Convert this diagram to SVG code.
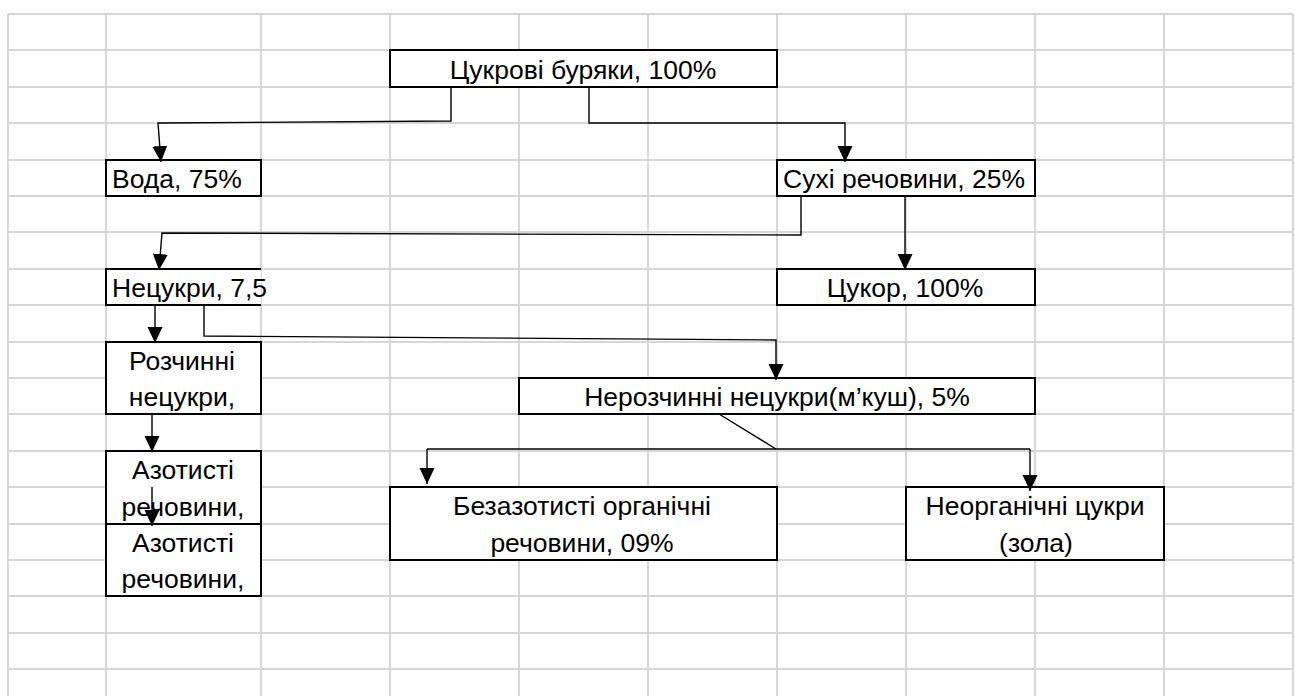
<svg xmlns="http://www.w3.org/2000/svg" width="1295" height="696" viewBox="0 0 1295 696">
<style>
.grid line{stroke:#d6d6d6;stroke-width:2}
.box{fill:#fff;stroke:#000;stroke-width:2}
.t{font-family:"Liberation Sans",Arial,sans-serif;font-size:26.5px;fill:#000}
.c{text-anchor:middle}
.conn path{fill:none;stroke:#000;stroke-width:1.4}
</style>
<defs>
<marker id="ah" markerUnits="userSpaceOnUse" markerWidth="16" markerHeight="16" viewBox="0 0 16 16" refX="16" refY="7.5" orient="auto">
<path d="M0,0 L16,7.5 L0,15 z" fill="#000"/>
</marker>
</defs>
<rect width="1295" height="696" fill="#fff"/>
<g class="grid">
<line x1="8" y1="14" x2="8" y2="696"/><line x1="106" y1="14" x2="106" y2="696"/><line x1="261" y1="14" x2="261" y2="696"/><line x1="390" y1="14" x2="390" y2="696"/><line x1="519" y1="14" x2="519" y2="696"/><line x1="648" y1="14" x2="648" y2="696"/><line x1="777" y1="14" x2="777" y2="696"/><line x1="906" y1="14" x2="906" y2="696"/><line x1="1035" y1="14" x2="1035" y2="696"/><line x1="1164" y1="14" x2="1164" y2="696"/><line x1="1293" y1="14" x2="1293" y2="696"/>
<line x1="8" y1="14" x2="1293" y2="14"/><line x1="8" y1="50" x2="1293" y2="50"/><line x1="8" y1="87" x2="1293" y2="87"/><line x1="8" y1="123" x2="1293" y2="123"/><line x1="8" y1="160" x2="1293" y2="160"/><line x1="8" y1="196" x2="1293" y2="196"/><line x1="8" y1="232" x2="1293" y2="232"/><line x1="8" y1="269" x2="1293" y2="269"/><line x1="8" y1="305" x2="1293" y2="305"/><line x1="8" y1="342" x2="1293" y2="342"/><line x1="8" y1="378" x2="1293" y2="378"/><line x1="8" y1="414" x2="1293" y2="414"/><line x1="8" y1="451" x2="1293" y2="451"/><line x1="8" y1="487" x2="1293" y2="487"/><line x1="8" y1="524" x2="1293" y2="524"/><line x1="8" y1="560" x2="1293" y2="560"/><line x1="8" y1="596" x2="1293" y2="596"/><line x1="8" y1="633" x2="1293" y2="633"/><line x1="8" y1="669" x2="1293" y2="669"/>
</g>
<g id="n-beet"><rect class="box" x="390" y="50" width="387" height="37"/><text class="t c" x="583" y="79">Цукрові буряки, 100%</text></g>
<g id="n-water"><rect class="box" x="106" y="160" width="155" height="36"/><text class="t" x="112" y="188">Вода, 75%</text></g>
<g id="n-dry"><rect class="box" x="777" y="160" width="258" height="36"/><text class="t" x="783" y="188">Сухі речовини, 25%</text></g>
<g id="n-nonsugar"><rect x="106" y="269" width="155" height="36" fill="#fff"/><path d="M261,269 H106 V305 H261" fill="none" stroke="#000" stroke-width="2"/><text class="t" x="112" y="297">Нецукри, 7,5</text></g>
<g id="n-sugar"><rect class="box" x="777" y="269" width="258" height="36"/><text class="t c" x="905" y="297">Цукор, 100%</text></g>
<g id="n-soluble"><rect class="box" x="106" y="342" width="155" height="72"/><text class="t c" x="182" y="370">Розчинні</text><text class="t c" x="182" y="406">нецукри,</text></g>
<g id="n-insoluble"><rect class="box" x="519" y="378" width="516" height="36"/><text class="t c" x="777" y="406">Нерозчинні нецукри(м’куш), 5%</text></g>
<g id="n-nitro1"><rect class="box" x="106" y="451" width="155" height="73"/><text class="t c" x="183" y="479">Азотисті</text><text class="t c" x="183" y="516">речовини,</text></g>
<g id="n-nitro2"><rect class="box" x="106" y="524" width="155" height="72"/><text class="t c" x="183" y="552">Азотисті</text><text class="t c" x="183" y="588">речовини,</text></g>
<g id="n-nonnitro"><rect class="box" x="390" y="487" width="387" height="73"/><text class="t c" x="582" y="515">Безазотисті органічні</text><text class="t c" x="582" y="552">речовини, 09%</text></g>
<g id="n-inorganic"><rect class="box" x="906" y="487" width="258" height="73"/><text class="t c" x="1035" y="515">Неорганічні цукри</text><text class="t c" x="1036" y="552">(зола)</text></g>
<g class="conn">
<path d="M451,87 V121 L158,123 L161,162" marker-end="url(#ah)"/>
<path d="M589,87 V123 H845 V162" marker-end="url(#ah)"/>
<path d="M801,196 V235 L162,233 L159,270" marker-end="url(#ah)"/>
<path d="M905,196 V270" marker-end="url(#ah)"/>
<path d="M155,305 V343" marker-end="url(#ah)"/>
<path d="M204,305 V336 L776,340 V380" marker-end="url(#ah)"/>
<path d="M152,414 V452" marker-end="url(#ah)"/>
<path d="M152,487 V526" marker-end="url(#ah)"/>
<path d="M719,414 L776,449"/>
<path d="M427,449 H1030"/>
<path d="M427,449 V484" marker-end="url(#ah)"/>
<path d="M1030,449 V491" marker-end="url(#ah)"/>
</g>
</svg>
